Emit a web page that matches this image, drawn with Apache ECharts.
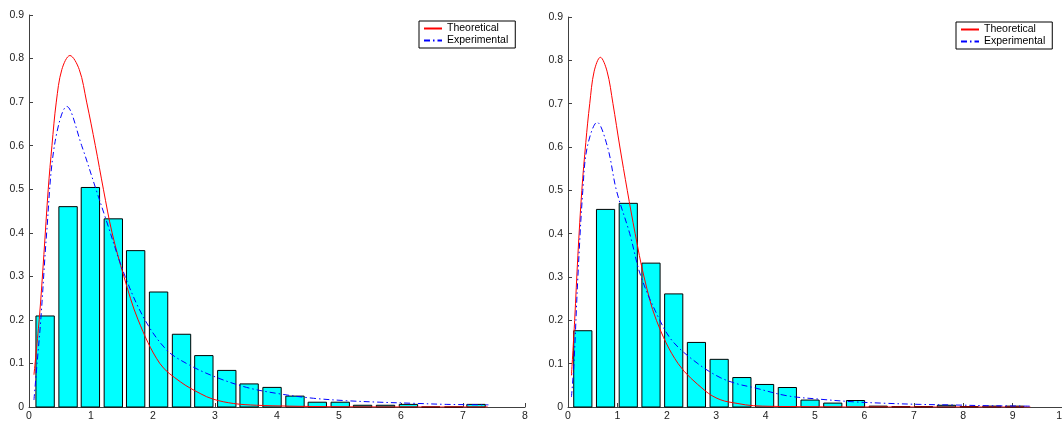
<!DOCTYPE html>
<html lang="en">
<head>
  <meta charset="UTF-8">
  <title>Theoretical vs Experimental</title>
  <style>
    #container, html, body {
      margin: 0;
      padding: 0;
      height: 100%;
      width: 100%;
      background: #fff;
    }
  </style>
</head>
<body>
  <div id="container"></div>
</body>
<script src="https://cdn.jsdelivr.net/npm/echarts@6/dist/echarts.min.js"></script>
<script>
  // histogram bins (centres) and heights
  var leftBins = [0.26, 0.63, 0.99, 1.36, 1.72, 2.09, 2.46, 2.82, 3.19, 3.55,
    3.92, 4.29, 4.65, 5.02, 5.38, 5.75, 6.12, 6.48, 6.85, 7.21]
  var leftHist = [0.209, 0.460, 0.504, 0.432, 0.359, 0.264, 0.167, 0.118, 0.084, 0.053,
    0.045, 0.025, 0.011, 0.011, 0.004, 0.004, 0.006, 0, 0, 0.006]
  var rightBins = [0.30, 0.76, 1.22, 1.68, 2.14, 2.60, 3.06, 3.52, 3.98, 4.44,
    4.90, 5.36, 5.82, 6.28, 6.74, 7.20, 7.66, 8.12, 8.58, 9.04]
  var rightHist = [0.176, 0.456, 0.470, 0.332, 0.261, 0.149, 0.110, 0.068, 0.052, 0.045,
    0.016, 0.009, 0.015, 0.002, 0.001, 0.001, 0.004, 0.001, 0.002, 0.002]

  // curves: [x, y] points
  var leftTheory = [[0.08, 0.074], [0.17, 0.21], [0.24, 0.35], [0.31, 0.50], [0.37, 0.60],
    [0.44, 0.70], [0.53, 0.775], [0.66, 0.807], [0.81, 0.775], [0.93, 0.70], [1.07, 0.60],
    [1.20, 0.50], [1.34, 0.40], [1.53, 0.30], [1.76, 0.20], [2.11, 0.10], [2.44, 0.058],
    [2.76, 0.031], [2.97, 0.018], [3.30, 0.008], [3.67, 0.004], [4.2, 0.002], [5.0, 0.0005],
    [6.0, 0.0001], [7.4, 0]]
  var leftExp = [[0.08, 0.016], [0.13, 0.10], [0.19, 0.20], [0.285, 0.40], [0.41, 0.60],
    [0.61, 0.69], [0.85, 0.60], [1.08, 0.50], [1.22, 0.44], [1.55, 0.30], [1.87, 0.20],
    [2.22, 0.131], [2.54, 0.10], [2.97, 0.071], [3.51, 0.045], [4.05, 0.030], [4.59, 0.020],
    [5.12, 0.0145], [5.66, 0.011], [6.2, 0.0085], [6.74, 0.006], [7.41, 0.005]]
  var rightTheory = [[0.07, 0.073], [0.135, 0.20], [0.2, 0.35], [0.28, 0.50], [0.36, 0.61],
    [0.44, 0.70], [0.53, 0.775], [0.655, 0.807], [0.79, 0.775], [0.91, 0.70], [1.05, 0.60],
    [1.20, 0.50], [1.36, 0.40], [1.54, 0.30], [1.79, 0.20], [2.23, 0.10], [2.77, 0.038],
    [3.08, 0.017], [3.44, 0.008], [3.75, 0.003], [4.5, 0.001], [6.0, 0.0001], [9.36, 0]]
  var rightExp = [[0.07, 0.023], [0.12, 0.10], [0.20, 0.30], [0.30, 0.50], [0.39, 0.60],
    [0.59, 0.657], [0.80, 0.60], [0.98, 0.50], [1.25, 0.40], [1.48, 0.30],
    [1.86, 0.20], [2.13, 0.15], [2.63, 0.10], [3.08, 0.068], [3.44, 0.053], [3.75, 0.045],
    [4.43, 0.026], [5.1, 0.018], [5.78, 0.012], [6.45, 0.0085], [7.13, 0.006], [7.8, 0.0047],
    [8.48, 0.003], [9.35, 0.002]]

  var font = 'Liberation Sans, Arial, sans-serif'
  var axisColor = '#404040'

  function histData (bins, hist) {
    return bins.map(function (b, i) { return [b, hist[i]] })
  }

  function barRenderer (bins) {
    var half = (bins[1] - bins[0]) * 0.8 / 2
    return function (params, api) {
      var x = api.value(0)
      var h = api.value(1)
      var p0 = api.coord([x - half, 0])
      var p1 = api.coord([x + half, h])
      return {
        type: 'rect',
        shape: { x: p0[0], y: p1[1], width: p1[0] - p0[0], height: p0[1] - p1[1] },
        style: { fill: '#00ffff', stroke: '#000', lineWidth: 1 }
      }
    }
  }

  function xAxis (idx, max) {
    return {
      type: 'value', gridIndex: idx, min: 0, max: max, interval: 1,
      splitLine: { show: false },
      axisLine: { onZero: false, lineStyle: { color: axisColor, width: 1 } },
      axisTick: { inside: true, length: 4, lineStyle: { color: axisColor } },
      axisLabel: { margin: 4, color: '#222', fontSize: 10.5, fontFamily: font, hideOverlap: false }
    }
  }

  function yAxis (idx) {
    return {
      type: 'value', gridIndex: idx, min: 0, max: 0.9, interval: 0.1,
      splitLine: { show: false },
      axisLine: { show: true, onZero: false, lineStyle: { color: axisColor, width: 1 } },
      axisTick: { show: true, inside: true, length: 4, lineStyle: { color: axisColor } },
      axisLabel: { margin: 5, color: '#222', fontSize: 10.5, fontFamily: font }
    }
  }

  function legend (left, top) {
    return {
      left: left, top: top, orient: 'vertical',
      data: ['Theoretical', 'Experimental'],
      borderColor: '#000', borderWidth: 1, backgroundColor: '#fff',
      padding: [2, 7, 2, 4], itemGap: 1, itemWidth: 18, itemHeight: 12,
      itemStyle: { opacity: 0, borderWidth: 0 },
      textStyle: { fontSize: 10.5, fontFamily: font, color: '#000' }
    }
  }

  function curve (name, idx, data, color, dash) {
    return {
      name: name, type: 'line', xAxisIndex: idx, yAxisIndex: idx,
      data: data, smooth: 0.35, symbol: 'none', z: 3,
      lineStyle: { color: color, width: 1, type: dash || 'solid' },
      itemStyle: { color: color }
    }
  }

  var charts = echarts.init(document.querySelector('#container'))
  var option = {
    animation: false,
    grid: [
      { left: 29, right: 537, top: 15, bottom: 15, outerBoundsMode: 'none' },
      { left: 568, right: 0, top: 17, bottom: 15, outerBoundsMode: 'none' }
    ],
    legend: [legend(419, 21), legend(956, 22)],
    xAxis: [xAxis(0, 8), xAxis(1, 10)],
    yAxis: [yAxis(0), yAxis(1)],
    series: [
      { type: 'custom', name: 'hist', xAxisIndex: 0, yAxisIndex: 0,
        data: histData(leftBins, leftHist), renderItem: barRenderer(leftBins) },
      curve('Theoretical', 0, leftTheory, '#ff0000'),
      curve('Experimental', 0, leftExp, '#0000ff', [6, 3, 1.5, 3]),
      { type: 'custom', name: 'hist2', xAxisIndex: 1, yAxisIndex: 1,
        data: histData(rightBins, rightHist), renderItem: barRenderer(rightBins) },
      curve('Theoretical', 1, rightTheory, '#ff0000'),
      curve('Experimental', 1, rightExp, '#0000ff', [6, 3, 1.5, 3])
    ]
  }
  charts.setOption(option)
  window.onresize = charts.resize
</script>
</html>
